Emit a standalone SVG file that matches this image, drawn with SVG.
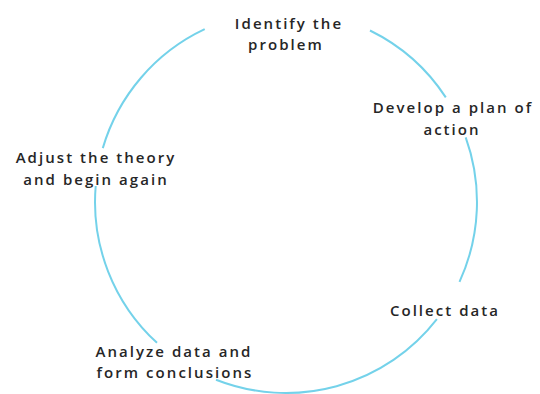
<svg xmlns="http://www.w3.org/2000/svg" width="540" height="394" viewBox="0 0 540 394">
  <style>
    .ring { fill: none; stroke: #74d2ea; stroke-width: 2; stroke-linecap: butt; }
    .label { font-family: "Open Sans", "Liberation Sans", sans-serif; font-size: 15px; font-weight: 600; letter-spacing: 2.05px; fill: #262626; text-anchor: middle; }
  </style>
  <rect width="540" height="394" fill="#ffffff"/>

  <!-- cycle ring, broken around each step -->
  <g id="connectors">
    <path class="ring" d="M102.8,148.1 A191,191 0 0 1 204.7,29.2"/>
    <path class="ring" d="M370.0,30.5 A191,191 0 0 1 445.8,97.4"/>
    <path class="ring" d="M465.7,137.3 A191,191 0 0 1 459.5,281.8"/>
    <path class="ring" d="M436.9,319.1 A191,191 0 0 1 216.0,379.7"/>
    <path class="ring" d="M157.0,342.8 A191,191 0 0 1 95.7,186.0"/>
  </g>

  <g id="identify">
    <text class="label" x="289" y="29">Identify the</text>
    <text class="label" x="286" y="50">problem</text>
  </g>
  <g id="plan">
    <text class="label" x="453" y="113">Develop a plan of</text>
    <text class="label" x="452" y="135">action</text>
  </g>
  <g id="collect">
    <text class="label" x="445" y="316">Collect data</text>
  </g>
  <g id="analyze">
    <text class="label" x="174" y="357">Analyze data and</text>
    <text class="label" x="175" y="378">form conclusions</text>
  </g>
  <g id="adjust">
    <text class="label" x="96" y="163">Adjust the theory</text>
    <text class="label" x="96" y="185">and begin again</text>
  </g>
</svg>
